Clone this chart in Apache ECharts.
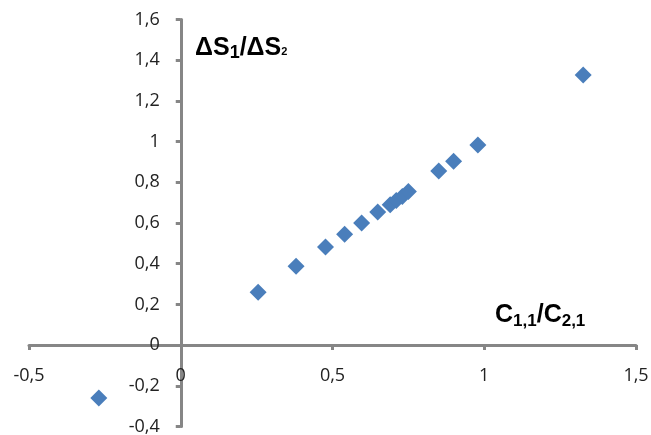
<!DOCTYPE html>
<html>
<head>
<meta charset="utf-8">
<script src="https://cdn.jsdelivr.net/npm/echarts@6/dist/echarts.min.js"></script>
<style>html,body{margin:0;padding:0;background:#fff}#c{width:651px;height:435px}</style>
</head>
<body>
<div id="c"></div>
<script>
// Data
var xValues = [-0.27, 0.255, 0.38, 0.477, 0.54, 0.596, 0.649, 0.69, 0.71, 0.73, 0.75, 0.85, 0.899, 0.979, 1.326];
var yValues = [-0.26, 0.26, 0.388, 0.482, 0.545, 0.600, 0.654, 0.69, 0.71, 0.73, 0.755, 0.855, 0.904, 0.983, 1.327];
var xTicks = {min: -0.5, max: 1.5, interval: 0.5};
var yTicks = {min: -0.4, max: 1.6, interval: 0.2};
var yTitle = ['ΔS', '1', '/ΔS', '2'];
var xTitle = ['C', '1,1', '/C', '2,1'];

var points = xValues.map(function (x, i) { return [x, yValues[i]]; });
function fmt(v) { return String(Math.round(v * 10) / 10).replace('.', ','); }

var W = 651, H = 435;
var gridL = 29, gridR = 15, gridT = 19.5, gridB = 8.5;
var gw = W - gridL - gridR, gh = H - gridT - gridB;
// move the axes so that they cross at zero (axis placement, derived from the ranges)
var yAxisOffset = -gw * (0 - xTicks.min) / (xTicks.max - xTicks.min);
var xAxisOffset = -gh * (0 - yTicks.min) / (yTicks.max - yTicks.min);

var axisColor = '#868686';
var labelFont = {fontFamily: 'Open Sans', fontSize: 18, color: '#222'};

var chart = echarts.init(document.getElementById('c'), null, {renderer: 'canvas'});
chart.setOption({
  animation: false,
  grid: {left: gridL, right: gridR, top: gridT, bottom: gridB, containLabel: false, outerBoundsMode: 'none'},
  xAxis: {
    type: 'value', min: xTicks.min, max: xTicks.max, interval: xTicks.interval,
    position: 'bottom', offset: xAxisOffset,
    axisLine: {onZero: false, lineStyle: {color: axisColor, width: 3}},
    axisTick: {show: true, length: 5, lineStyle: {color: axisColor, width: 3}},
    axisLabel: Object.assign({margin: 22, formatter: fmt, showMinLabel: true, showMaxLabel: true, hideOverlap: false}, labelFont),
    splitLine: {show: false}
  },
  yAxis: {
    type: 'value', min: yTicks.min, max: yTicks.max, interval: yTicks.interval,
    position: 'left', offset: yAxisOffset,
    axisLine: {onZero: false, lineStyle: {color: axisColor, width: 3}},
    axisTick: {show: true, length: 5, lineStyle: {color: axisColor, width: 3}},
    axisLabel: Object.assign({margin: 21, formatter: fmt, showMinLabel: true, showMaxLabel: true, hideOverlap: false}, labelFont),
    splitLine: {show: false}
  },
  series: [{
    type: 'scatter',
    symbol: 'diamond',
    symbolSize: 17,
    itemStyle: {color: '#4a7ebb', opacity: 1},
    data: points
  }],
  graphic: [
    {
      type: 'text', left: 195, top: 36,
      style: {
        text: '{a|' + yTitle[0] + '}{b|' + yTitle[1] + '}{a|' + yTitle[2] + '}{c|' + yTitle[3] + '}',
        rich: {
          a: {fontFamily: 'Liberation Sans', fontWeight: 'bold', fontSize: 25, lineHeight: 28, fill: '#000', verticalAlign: 'middle'},
          b: {fontFamily: 'Liberation Sans', fontWeight: 'bold', fontSize: 18, lineHeight: 18, fill: '#000', verticalAlign: 'bottom', padding: [0, 0, 0, 0]},
          c: {fontFamily: 'Liberation Sans', fontWeight: 'bold', fontSize: 11, lineHeight: 11, fill: '#000', verticalAlign: 'bottom', padding: [0, 0, 5, 0]}
        }
      }
    },
    {
      type: 'text', left: 495, top: 303,
      style: {
        text: '{a|' + xTitle[0] + '}{b|' + xTitle[1] + '}{a|' + xTitle[2] + '}{b|' + xTitle[3] + '}',
        rich: {
          a: {fontFamily: 'Liberation Sans', fontWeight: 'bold', fontSize: 25, lineHeight: 28, fill: '#000', verticalAlign: 'middle'},
          b: {fontFamily: 'Liberation Sans', fontWeight: 'bold', fontSize: 17, lineHeight: 17, fill: '#000', verticalAlign: 'bottom'}
        }
      }
    }
  ]
});
</script>
</body>
</html>
